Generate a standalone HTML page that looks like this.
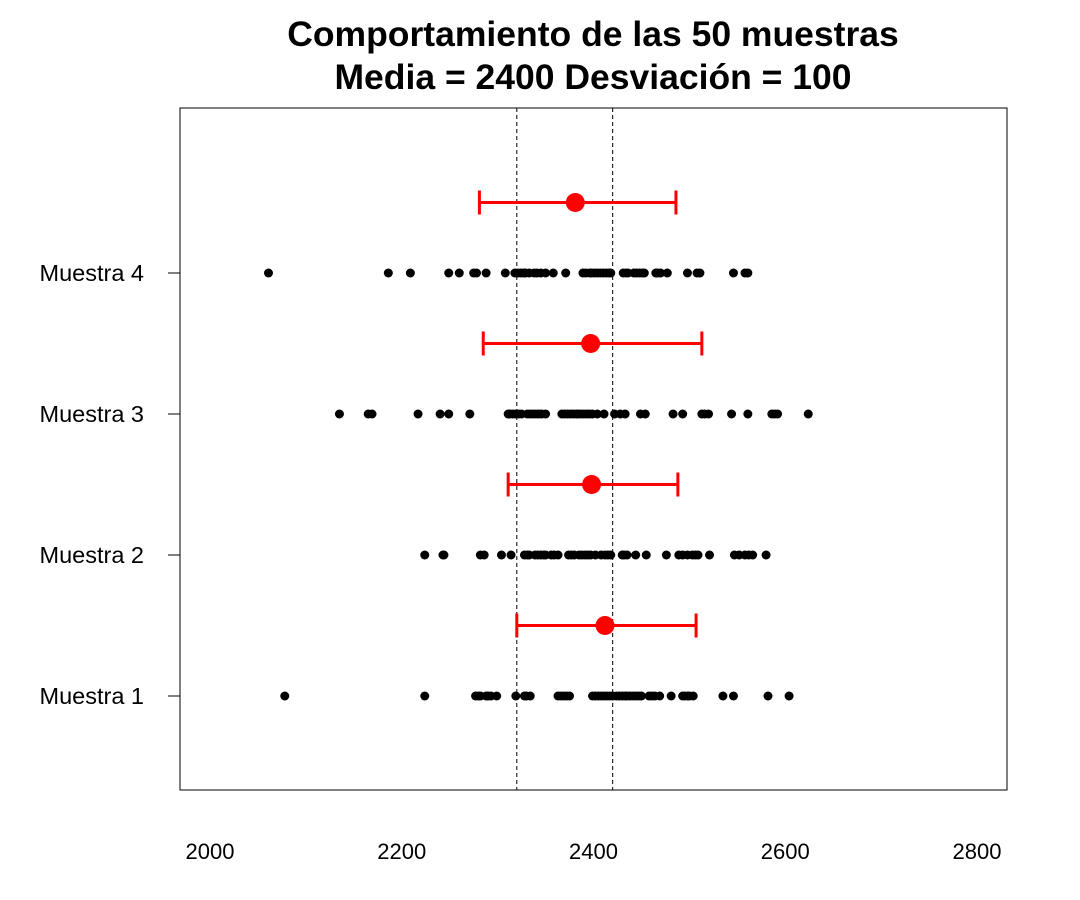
<!DOCTYPE html>
<html><head><meta charset="utf-8"><style>
body{margin:0;background:#fff}
svg{display:block;font-family:"Liberation Sans",Arial,sans-serif}
</style></head><body>
<svg id="chart" width="1080" height="900">
<text x="593" y="46" text-anchor="middle" font-size="35.5" font-weight="bold">Comportamiento de las 50 muestras</text>
<text x="593" y="89" text-anchor="middle" font-size="35.5" font-weight="bold">Media = 2400 Desviación = 100</text>
<rect x="180" y="108" width="827" height="682" fill="none" stroke="#000" stroke-width="1"/>
<g id="g"></g>
</svg>
<script>
const rowLabels=["Muestra 1","Muestra 2","Muestra 3","Muestra 4"];
const xTicks=[2000,2200,2400,2600,2800];
const refLines=[2320,2420];
const sample1=[2078,2224,2277,2282,2288,2293,2299,2319,2328,2334,2363,2369,2375,2399,2405,2411,2417,2424,2430,2435,2441,2447,2458,2464,2469,2481,2493,2498,2504,2535,2546,2582,2604,2280,2330,2366,2402,2408,2420,2427,2438,2444,2450,2461,2495,2500,2372,2414,2433,2290];
const sample2=[2224,2243,2244,2282,2286,2304,2314,2328,2333,2339,2345,2350,2356,2363,2374,2380,2385,2391,2397,2402,2412,2418,2430,2435,2444,2455,2476,2489,2498,2503,2509,2521,2547,2552,2558,2566,2580,2331,2342,2348,2359,2377,2388,2394,2408,2415,2432,2493,2506,2562];
const sample3=[2135,2165,2169,2217,2240,2249,2271,2311,2316,2322,2331,2337,2343,2350,2367,2373,2379,2384,2390,2396,2399,2411,2422,2428,2433,2449,2454,2483,2493,2513,2520,2544,2561,2586,2592,2624,2313,2319,2325,2334,2340,2346,2370,2376,2382,2387,2393,2404,2516,2589];
const sample4=[2061,2186,2209,2249,2260,2275,2278,2288,2308,2318,2324,2329,2338,2345,2350,2358,2371,2389,2396,2401,2407,2413,2418,2431,2436,2442,2448,2453,2465,2470,2477,2498,2511,2546,2558,2321,2327,2333,2341,2392,2398,2404,2410,2416,2434,2445,2451,2467,2508,2561];
const means=[2412,2398,2397,2381];
const ciLow=[2320,2311,2285,2281];
const ciHigh=[2507,2488,2513,2486];
const samples=[sample1,sample2,sample3,sample4];

const NS="http://www.w3.org/2000/svg";
const g=document.getElementById("g");
const xs=v=>210+(v-2000)*767/800;
const ys=r=>696-(r-1)*141;
function mk(t,a){const e=document.createElementNS(NS,t);for(const k in a)e.setAttribute(k,a[k]);g.appendChild(e);return e;}

refLines.forEach(v=>{
  const l=mk("line",{x1:xs(v),x2:xs(v),y1:108,y2:790,stroke:"#000","stroke-width":1,"stroke-dasharray":"4,3"});
  
  
});
xTicks.forEach(v=>{
  const t=mk("text",{x:xs(v),y:859,"text-anchor":"middle","font-size":22});
  t.textContent=v;
  
  
});
rowLabels.forEach((lab,i)=>{
  const y=ys(i+1);
  const tk=mk("line",{x1:168,x2:180,y1:y,y2:y,stroke:"#000","stroke-width":1});
  
  
  const t=mk("text",{x:144,y:y+8,"text-anchor":"end","font-size":23.5});
  t.textContent=lab;
  
  
});
samples.forEach((s,i)=>{
  const y=ys(i+1);
  s.forEach(v=>{
    const c=mk("circle",{cx:xs(v),cy:y,r:4.5,fill:"#000"});
    
    
  });
});
means.forEach((m,i)=>{
  const y=ys(i+1.5);
  const a=xs(ciLow[i]),b=xs(ciHigh[i]);
  const l=mk("path",{d:`M${a},${y}H${b}M${a},${y-12}V${y+12}M${b},${y-12}V${y+12}`,stroke:"#f00","stroke-width":3,fill:"none"});
  
  
  const c=mk("circle",{cx:xs(m),cy:y,r:9.5,fill:"#f00"});
  
  
});
</script>
</body></html>
